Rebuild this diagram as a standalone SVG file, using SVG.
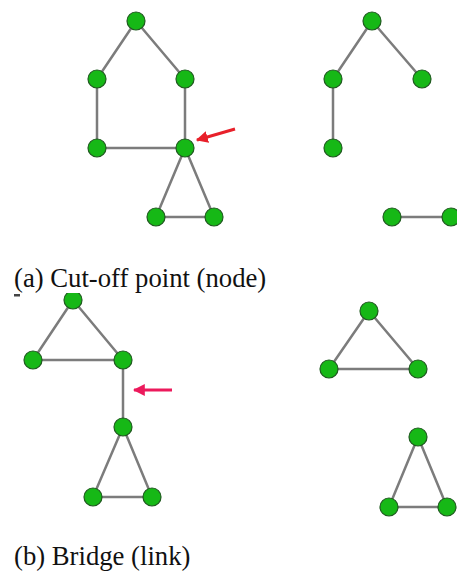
<svg xmlns="http://www.w3.org/2000/svg" width="457" height="576" viewBox="0 0 457 576">
<style>
.e{stroke:#7c7c7c;stroke-width:2.5;fill:none}
.n{fill:#16b816;stroke:#1f5a1f;stroke-width:1.2}
.t{font-family:"Liberation Serif","Times New Roman",serif;font-size:26.7px;fill:#111}
</style>
<defs>
<marker id="ha" viewBox="0 0 10 10" refX="9" refY="5" markerWidth="4" markerHeight="4" orient="auto" markerUnits="strokeWidth"><path d="M0,0 L10,5 L0,10 z" fill="#e8202a"/></marker>
<marker id="hb" viewBox="0 0 10 10" refX="9" refY="5" markerWidth="4" markerHeight="4" orient="auto" markerUnits="strokeWidth"><path d="M0,0 L10,5 L0,10 z" fill="#ec1a5c"/></marker>
<clipPath id="cb"><rect x="0" y="293" width="457" height="283"/></clipPath>
</defs>
<rect width="457" height="576" fill="#fff"/>
<g id="connectors">
<path class="e" d="M136,21 L97,79 M136,21 L185,79 M97,79 L97,148 M185,79 L185,148 M97,148 L185,148 M185,148 L156,217 M185,148 L214,217 M156,217 L214,217"/>
<path class="e" d="M372,21 L333,79 M372,21 L422,79 M333,79 L333,148 M392,217 L451,217"/>
<path class="e" d="M73,300 L33,360 M73,300 L123,360 M33,360 L123,360 M123,360 L123,427 M123,427 L93,497 M123,427 L152,497 M93,497 L152,497"/>
<path class="e" d="M369,311 L329,369 M369,311 L418,369 M329,369 L418,369 M418,437 L389,507 M418,437 L447,507 M389,507 L447,507"/>
<line id="arrow-a" x1="235" y1="129" x2="197" y2="140" stroke="#e8202a" stroke-width="3" marker-end="url(#ha)"/>
<line id="arrow-b" x1="172" y1="390" x2="134" y2="390" stroke="#ec1a5c" stroke-width="3" marker-end="url(#hb)"/>
</g>
<g id="a-top"><circle class="n" cx="136" cy="21" r="9"/></g>
<g id="a-left"><circle class="n" cx="97" cy="79" r="9"/></g>
<g id="a-right"><circle class="n" cx="185" cy="79" r="9"/></g>
<g id="a-bl"><circle class="n" cx="97" cy="148" r="9"/></g>
<g id="a-cut"><circle class="n" cx="185" cy="148" r="9"/></g>
<g id="a-t1"><circle class="n" cx="156" cy="217" r="9"/></g>
<g id="a-t2"><circle class="n" cx="214" cy="217" r="9"/></g>
<g id="a2-top"><circle class="n" cx="372" cy="21" r="9"/></g>
<g id="a2-left"><circle class="n" cx="333" cy="79" r="9"/></g>
<g id="a2-right"><circle class="n" cx="422" cy="79" r="9"/></g>
<g id="a2-bl"><circle class="n" cx="333" cy="148" r="9"/></g>
<g id="a2-p1"><circle class="n" cx="392" cy="217" r="9"/></g>
<g id="a2-p2"><circle class="n" cx="451" cy="217" r="9"/></g>
<g id="b-top" clip-path="url(#cb)"><circle class="n" cx="73" cy="300" r="9"/></g>
<g id="b-left"><circle class="n" cx="33" cy="360" r="9"/></g>
<g id="b-right"><circle class="n" cx="123" cy="360" r="9"/></g>
<g id="b-mid"><circle class="n" cx="123" cy="427" r="9"/></g>
<g id="b-t1"><circle class="n" cx="93" cy="497" r="9"/></g>
<g id="b-t2"><circle class="n" cx="152" cy="497" r="9"/></g>
<g id="b2-top"><circle class="n" cx="369" cy="311" r="9"/></g>
<g id="b2-left"><circle class="n" cx="329" cy="369" r="9"/></g>
<g id="b2-right"><circle class="n" cx="418" cy="369" r="9"/></g>
<g id="b3-top"><circle class="n" cx="418" cy="437" r="9"/></g>
<g id="b3-left"><circle class="n" cx="389" cy="507" r="9"/></g>
<g id="b3-right"><circle class="n" cx="447" cy="507" r="9"/></g>
<rect x="14" y="294" width="6" height="2.5" fill="#444"/>
<text class="t" x="14" y="287">(a) Cut-off point (node)</text>
<text class="t" x="14" y="565">(b) Bridge (link)</text>
</svg>
